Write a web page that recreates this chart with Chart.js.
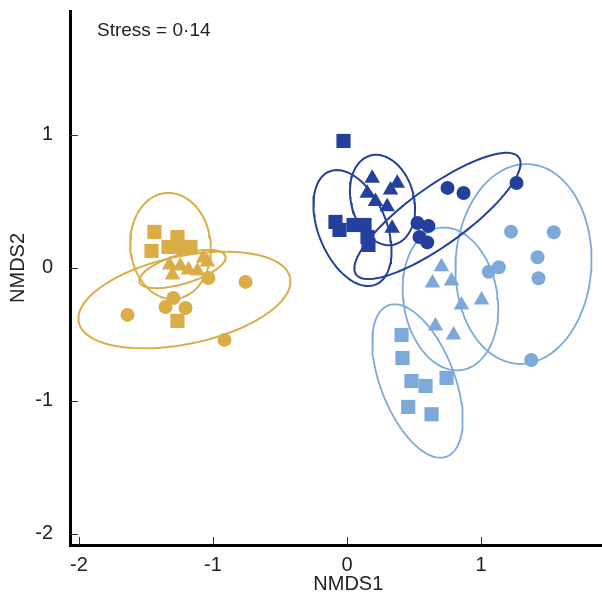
<!DOCTYPE html>
<html>
<head>
<meta charset="utf-8">
<script src="https://cdn.jsdelivr.net/npm/chart.js@4.4.0/dist/chart.umd.min.js"></script>
<style>
  body { margin: 0; background: #fff; }
  #nmds { display: block; }
</style>
</head>
<body>
<canvas id="nmds" width="602" height="602"></canvas>
<script>
const xTicks = [-2, -1, 0, 1];
const yTicks = [-2, -1, 0, 1];
const stressText = 'Stress = 0\u00b714';

// gold group
const goldCircles = [[-1.638, -0.353], [-1.354, -0.293], [-1.295, -0.226], [-1.205, -0.301], [-1.034, -0.075], [-0.757, -0.105], [-0.914, -0.541]];
const goldSquares = [[-1.437, 0.271], [-1.459, 0.128], [-1.265, 0.233], [-1.332, 0.158], [-1.243, 0.158], [-1.168, 0.158], [-1.265, -0.398]];
const goldTriangles = [[-1.324, 0.023], [-1.243, 0.015], [-1.302, -0.053], [-1.183, -0.015], [-1.116, -0.023], [-1.071, 0.075], [-1.041, 0.045]];

// navy group
const navyCircles = [[0.750, 0.602], [0.870, 0.564], [1.265, 0.639], [0.526, 0.338], [0.608, 0.316], [0.541, 0.233], [0.599, 0.192]];
const navySquares = [[-0.026, 0.955], [-0.086, 0.346], [-0.056, 0.286], [0.049, 0.323], [0.131, 0.323], [0.153, 0.233], [0.160, 0.173]];
const navyTriangles = [[0.188, 0.674], [0.375, 0.636], [0.325, 0.586], [0.151, 0.561], [0.213, 0.499], [0.300, 0.461], [0.337, 0.298]];

// light blue group
const skyCircles = [[1.224, 0.273], [1.543, 0.268], [1.422, 0.080], [1.429, -0.077], [1.058, -0.028], [1.133, 0.005], [1.375, -0.692]];
const skySquares = [[0.407, -0.504], [0.414, -0.677], [0.481, -0.850], [0.586, -0.887], [0.743, -0.827], [0.457, -1.045], [0.631, -1.100]];
const skyTriangles = [[0.705, 0.010], [0.638, -0.113], [0.780, -0.098], [0.854, -0.278], [1.004, -0.241], [0.660, -0.436], [0.795, -0.504]];

// ellipses: centre x, centre y, semi axis a, semi axis b, angle (deg)
const goldEllipses = [[-1.213, -0.241, 0.806, 0.33, 12], [-1.317, 0.165, 0.40, 0.30, 95], [-1.228, -0.008, 0.335, 0.11, 17]];
const navyEllipses = [[0.675, 0.391, 0.75, 0.218, 36], [0.041, 0.30, 0.459, 0.254, 112], [0.265, 0.511, 0.346, 0.234, 105]];
const skyEllipses = [[1.317, 0.03, 0.752, 0.507, 87], [0.772, -0.233, 0.541, 0.351, 99], [0.526, -0.85, 0.609, 0.276, 111]];

const gold = 'rgb(218, 173, 70)';
const navy = 'rgb(35, 64, 156)';
const sky = 'rgb(124, 169, 218)';
const fontFamily = '"Liberation Sans", Arial, Helvetica, sans-serif';

function toPoints(list) {
  return list.map(p => ({x: p[0], y: p[1]}));
}

function ellipsePoints(e) {
  const pts = [];
  const th = e[4] * Math.PI / 180;
  for (let i = 0; i <= 90; i++) {
    const t = i * Math.PI / 45;
    pts.push({
      x: e[0] + e[2] * Math.cos(t) * Math.cos(th) - e[3] * Math.sin(t) * Math.sin(th),
      y: e[1] + e[2] * Math.cos(t) * Math.sin(th) + e[3] * Math.sin(t) * Math.cos(th)
    });
  }
  return pts;
}

function markerSet(list, color, style, radius) {
  return {
    data: toPoints(list),
    pointStyle: style,
    pointRadius: radius,
    pointHoverRadius: radius,
    backgroundColor: color,
    borderColor: color,
    borderWidth: 0,
    order: 1
  };
}

function ellipseSet(e, color, width) {
  return {
    data: ellipsePoints(e),
    showLine: true,
    pointRadius: 0,
    borderColor: color,
    borderWidth: width,
    fill: false,
    tension: 0,
    order: 2
  };
}

const datasets = [];
goldEllipses.forEach(e => datasets.push(ellipseSet(e, gold, 2)));
navyEllipses.forEach(e => datasets.push(ellipseSet(e, navy, 2)));
skyEllipses.forEach(e => datasets.push(ellipseSet(e, sky, 1.8)));
datasets.push(markerSet(goldCircles, gold, 'circle', 7));
datasets.push(markerSet(goldSquares, gold, 'rect', 10));
datasets.push(markerSet(goldTriangles, gold, 'triangle', 9));
datasets.push(markerSet(navyCircles, navy, 'circle', 7));
datasets.push(markerSet(navySquares, navy, 'rect', 10));
datasets.push(markerSet(navyTriangles, navy, 'triangle', 9));
datasets.push(markerSet(skyCircles, sky, 'circle', 7));
datasets.push(markerSet(skySquares, sky, 'rect', 10));
datasets.push(markerSet(skyTriangles, sky, 'triangle', 9));

// inward ticks, axis titles, stress note
const extras = {
  id: 'extras',
  afterDraw(chart) {
    const c = chart.ctx;
    const xs = chart.scales.x;
    const ys = chart.scales.y;
    const area = chart.chartArea;
    c.save();
    c.strokeStyle = '#333';
    c.lineWidth = 1;
    xTicks.forEach(v => {
      const px = Math.round(xs.getPixelForValue(v)) + 0.5;
      c.beginPath();
      c.moveTo(px, area.bottom);
      c.lineTo(px, area.bottom - 8);
      c.stroke();
    });
    yTicks.forEach(v => {
      const py = Math.round(ys.getPixelForValue(v)) + 0.5;
      c.beginPath();
      c.moveTo(area.left, py);
      c.lineTo(area.left + 8, py);
      c.stroke();
    });
    c.fillStyle = '#222';
    c.font = '20px ' + fontFamily;
    c.textAlign = 'center';
    c.textBaseline = 'middle';
    c.fillText('NMDS1', xs.getPixelForValue(0.01), 584);
    c.save();
    c.translate(18, ys.getPixelForValue(0));
    c.rotate(-Math.PI / 2);
    c.fillText('NMDS2', 0, 0);
    c.restore();
    c.font = '19px ' + fontFamily;
    c.textAlign = 'left';
    c.textBaseline = 'alphabetic';
    c.fillText(stressText, 97, 36);
    c.restore();
  }
};

const ctx = document.getElementById('nmds').getContext('2d');
const myChart = new Chart(ctx, {
  type: 'scatter',
  data: { datasets: datasets },
  options: {
    responsive: false,
    animation: false,
    layout: { autoPadding: false, padding: { top: 11, left: 0, right: 0, bottom: 0 } },
    plugins: {
      legend: { display: false },
      tooltip: { enabled: false }
    },
    scales: {
      x: {
        type: 'linear',
        position: 'bottom',
        min: -2.067,
        max: 1.903,
        grid: { display: false, drawTicks: false },
        border: { display: true, color: '#000', width: 3 },
        afterBuildTicks: (scale) => { scale.ticks = xTicks.map(v => ({value: v})); },
        afterFit: (scale) => {
          scale.height = 57;
          scale.paddingLeft = 0;
          scale.paddingRight = 0;
        },
        ticks: {
          color: '#222',
          padding: 8,
          maxRotation: 0,
          autoSkip: false,
          font: { family: fontFamily, size: 20 }
        }
      },
      y: {
        type: 'linear',
        position: 'left',
        min: -2.083,
        max: 1.932,
        grid: { display: false, drawTicks: false },
        border: { display: true, color: '#000', width: 3 },
        afterBuildTicks: (scale) => { scale.ticks = yTicks.map(v => ({value: v})); },
        afterFit: (scale) => {
          scale.width = 70;
          scale.paddingTop = 0;
          scale.paddingBottom = 0;
        },
        ticks: {
          color: '#222',
          padding: 17,
          autoSkip: false,
          font: { family: fontFamily, size: 20 }
        }
      }
    }
  },
  plugins: [extras]
});
</script>
</body>
</html>
